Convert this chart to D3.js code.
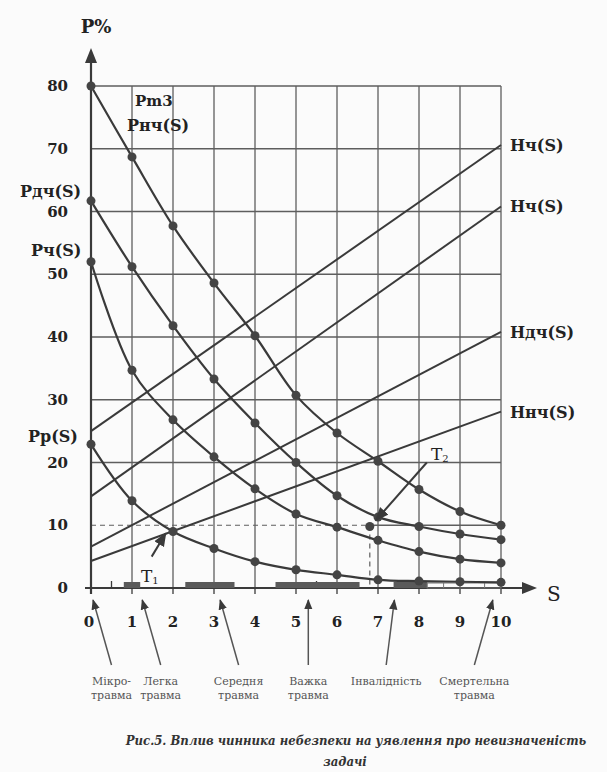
<!DOCTYPE html>
<html>
<head>
<meta charset="utf-8">
<script src="https://cdn.jsdelivr.net/npm/d3@7"></script>
<style>
  body { margin: 0; background: #fbfbfb; }
</style>
</head>
<body>
<div id="chart"></div>
<script>
// values
var sValues = [0, 1, 2, 3, 4, 5, 6, 7, 8, 9, 10];
var pnch = [80, 68.7, 57.7, 48.6, 40.2, 30.7, 24.7, 20.2, 15.7, 12.2, 10];
var pdch = [61.7, 51.2, 41.8, 33.3, 26.3, 20, 14.7, 11.3, 9.8, 8.6, 7.7];
var pch  = [52, 34.7, 26.8, 20.9, 15.8, 11.8, 9.7, 7.6, 5.8, 4.6, 4];
var pp   = [22.9, 13.9, 9, 6.3, 4.2, 2.9, 2.1, 1.3, 1.1, 1, 0.9];

// straight lines H(S): value at S=0 and S=10
var lineEnds = [[25, 70.6], [14.6, 60.8], [6.6, 40.8], [4.3, 28.1]];
var lineLabels = ["Нч(S)", "Нч(S)", "Ндч(S)", "Ннч(S)"];

var yTicks = [0, 10, 20, 30, 40, 50, 60, 70, 80];
var xTicks = [0, 1, 2, 3, 4, 5, 6, 7, 8, 9, 10];

// grey bars on the S axis
var bars = [[0.8, 1.2], [2.3, 3.5], [4.5, 6.55], [7.38, 8.2]];
var openBar = [8.2, 10];
var openDividers = [8.6, 9.6];

var t1 = [2, 9];
var t2 = [6.8, 9.8];

var injuries = [
  { s: 0.05, lines: ["Мікро-", "травма"], to: 0.5 },
  { s: 1.25, lines: ["Легка", "травма"], to: 1.7 },
  { s: 3.15, lines: ["Середня", "травма"], to: 3.6 },
  { s: 5.3,  lines: ["Важка", "травма"], to: 5.3 },
  { s: 7.4,  lines: ["Інвалідність"], to: 7.2 },
  { s: 9.8,  lines: ["Смертельна", "травма"], to: 9.35 }
];

var W = 607, H = 772;
var serif = "'DejaVu Serif', 'Liberation Serif', serif";
var svg = d3.select("#chart").append("svg").attr("width", W).attr("height", H)
  .style("font-family", serif);

var x = d3.scaleLinear().domain([0, 10]).range([91, 501]);
var y = d3.scaleLinear().domain([0, 80]).range([588, 86]);

var ink = "#3a3a3a", grid = "#5e5e5e";

// grid
svg.append("g").selectAll("line").data(xTicks.slice(1)).join("line")
  .attr("x1", d => x(d)).attr("x2", d => x(d))
  .attr("y1", y(0)).attr("y2", y(80))
  .attr("stroke", grid).attr("stroke-width", 1.3);

svg.append("g").selectAll("line").data(yTicks.slice(1)).join("line")
  .attr("x1", d => d === 10 ? x(t2[0]) : x(0)).attr("x2", x(10))
  .attr("y1", d => y(d)).attr("y2", d => y(d))
  .attr("stroke", grid).attr("stroke-width", 1.3);

// dashed guide to T2
svg.append("path")
  .attr("d", "M" + x(0) + "," + y(10) + "H" + x(t2[0]) + "V" + y(0))
  .attr("fill", "none").attr("stroke", grid).attr("stroke-width", 1.2)
  .attr("stroke-dasharray", "5,4");

// axes
svg.append("line").attr("x1", x(0)).attr("x2", x(0)).attr("y1", y(0) + 6).attr("y2", 60)
  .attr("stroke", ink).attr("stroke-width", 2.2);
svg.append("path").attr("d", "M" + x(0) + ",48L" + (x(0) - 6) + ",63L" + (x(0) + 6) + ",63Z").attr("fill", ink);
svg.append("line").attr("x1", x(0) - 6).attr("x2", 524).attr("y1", y(0)).attr("y2", y(0))
  .attr("stroke", ink).attr("stroke-width", 2.2);
svg.append("path").attr("d", "M537," + y(0) + "L522," + (y(0) - 6) + "L522," + (y(0) + 6) + "Z").attr("fill", ink);

// axis tick marks
svg.append("g").selectAll("line").data(xTicks).join("line")
  .attr("x1", d => x(d)).attr("x2", d => x(d))
  .attr("y1", y(0)).attr("y2", y(0) + 6)
  .attr("stroke", ink).attr("stroke-width", 1.3);
svg.append("g").selectAll("line").data([0.5, 5.5]).join("line")
  .attr("x1", d => x(d)).attr("x2", d => x(d))
  .attr("y1", y(0)).attr("y2", y(0) - 7)
  .attr("stroke", ink).attr("stroke-width", 1.3);

// bars
svg.append("g").selectAll("rect").data(bars).join("rect")
  .attr("x", d => x(d[0])).attr("width", d => x(d[1]) - x(d[0]))
  .attr("y", y(0) - 6).attr("height", 6)
  .attr("fill", "#5a5a5a");
svg.append("rect").attr("x", x(openBar[0])).attr("width", x(openBar[1]) - x(openBar[0]))
  .attr("y", y(0) - 5).attr("height", 5)
  .attr("fill", "none").attr("stroke", "#777").attr("stroke-width", 1);
svg.append("g").selectAll("line").data(openDividers).join("line")
  .attr("x1", d => x(d)).attr("x2", d => x(d))
  .attr("y1", y(0) - 5).attr("y2", y(0))
  .attr("stroke", "#777").attr("stroke-width", 1);

// tick labels
svg.append("g").selectAll("text").data(yTicks).join("text")
  .attr("x", 68).attr("y", d => y(d) + 5)
  .attr("text-anchor", "end").attr("font-size", 15).attr("font-weight", "bold").attr("fill", "#222")
  .text(d => d);
svg.append("g").selectAll("text").data(xTicks).join("text")
  .attr("x", d => x(d) - (d === 0 ? 2 : 0)).attr("y", 627)
  .attr("text-anchor", "middle").attr("font-size", 15).attr("font-weight", "bold").attr("fill", "#222")
  .text(d => d);

// straight H lines
svg.append("g").selectAll("line").data(lineEnds).join("line")
  .attr("x1", x(0)).attr("x2", x(10))
  .attr("y1", d => y(d[0])).attr("y2", d => y(d[1]))
  .attr("stroke", ink).attr("stroke-width", 2);

// P curves
var curves = [pnch, pdch, pch, pp];
var line = d3.line().x((d, i) => x(sValues[i])).y(d => y(d)).curve(d3.curveCatmullRom.alpha(0.5));
svg.append("g").selectAll("path").data(curves).join("path")
  .attr("d", line).attr("fill", "none").attr("stroke", ink).attr("stroke-width", 2.2);
curves.forEach(function (c) {
  svg.append("g").selectAll("circle").data(c).join("circle")
    .attr("cx", (d, i) => x(sValues[i])).attr("cy", d => y(d)).attr("r", 4.5)
    .attr("fill", "#444");
});

// T points
svg.append("circle").attr("cx", x(t2[0])).attr("cy", y(t2[1])).attr("r", 4.5).attr("fill", "#444");

svg.append("defs").append("marker").attr("id", "ah")
  .attr("viewBox", "0 0 10 10").attr("refX", 9).attr("refY", 5)
  .attr("markerWidth", 7).attr("markerHeight", 7).attr("orient", "auto")
  .append("path").attr("d", "M0,1L10,5L0,9Z").attr("fill", ink);

svg.append("line").attr("x1", x(1.48)).attr("y1", y(5)).attr("x2", x(1.82)).attr("y2", y(8.7))
  .attr("stroke", ink).attr("stroke-width", 2).attr("marker-end", "url(#ah)");
svg.append("line").attr("x1", x(8.19)).attr("y1", y(20)).attr("x2", x(6.95)).attr("y2", y(10.8))
  .attr("stroke", ink).attr("stroke-width", 2).attr("marker-end", "url(#ah)");

function tLabel(px, py, sub) {
  var t = svg.append("text").attr("x", px).attr("y", py)
    .attr("font-size", 17).attr("fill", "#222");
  t.append("tspan").text("T");
  t.append("tspan").attr("font-size", 10).attr("dy", 2).text(sub);
}
tLabel(141, 582, "1");
tLabel(431, 460, "2");

// curve labels
function bold(txt, px, py, size, anchor) {
  svg.append("text").attr("x", px).attr("y", py)
    .attr("font-size", size || 16).attr("font-weight", "bold").attr("fill", "#222")
    .attr("text-anchor", anchor || "start").text(txt);
}
bold("P%", 96, 33, 18, "middle");
bold("Pm3", 135, 106, 15);
bold("Рнч(S)", 127, 131, 16);
bold("Рдч(S)", 20, 197, 16);
bold("Рч(S)", 31, 256, 16);
bold("Pp(S)", 28, 442, 16);
lineEnds.forEach(function (d, i) {
  bold(lineLabels[i], 510, y(d[1]) + 6, 16);
});
svg.append("text").attr("x", 547).attr("y", 601).attr("font-size", 20).attr("fill", "#222").text("S");

// injury labels with arrows pointing up to the axis
injuries.forEach(function (d) {
  svg.append("line")
    .attr("x1", x(d.to)).attr("y1", 665)
    .attr("x2", x(d.s)).attr("y2", 600)
    .attr("stroke", "#555").attr("stroke-width", 1.5).attr("marker-end", "url(#ah)");
  var t = svg.append("text").attr("y", 685)
    .attr("font-size", 11).attr("fill", "#555").attr("text-anchor", "middle");
  d.lines.forEach(function (l, k) {
    t.append("tspan").attr("x", x(d.to)).attr("dy", k === 0 ? 0 : 14).text(l);
  });
});

// caption: shrink the font until the line fits under the chart
var cap = svg.append("text").attr("x", 356).attr("y", 745).attr("text-anchor", "middle")
  .style("font-family", "'DejaVu Serif Condensed', 'DejaVu Serif', serif")
  .attr("font-size", 16).attr("font-weight", "bold").attr("font-style", "italic").attr("fill", "#333")
  .text("Рис.5. Вплив чинника небезпеки на уявлення про невизначеність");
var capSize = 16;
while (cap.node().getComputedTextLength() > 478 && capSize > 9) {
  capSize -= 0.5;
  cap.attr("font-size", capSize);
}
svg.append("text").attr("x", 345).attr("y", 766).attr("text-anchor", "middle")
  .style("font-family", "'DejaVu Serif Condensed', 'DejaVu Serif', serif")
  .attr("font-size", capSize).attr("font-weight", "bold").attr("font-style", "italic").attr("fill", "#333")
  .text("задачі");
</script>
</body>
</html>
